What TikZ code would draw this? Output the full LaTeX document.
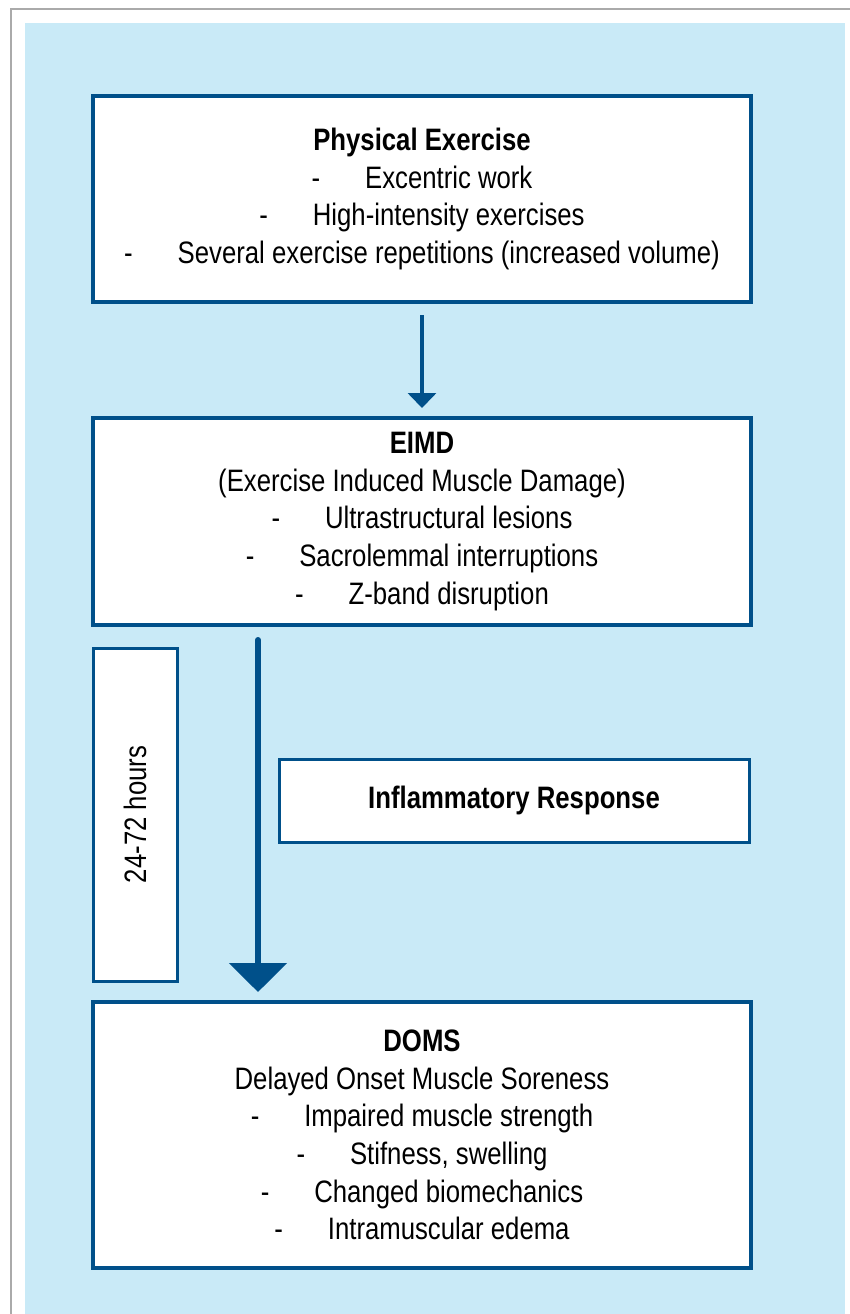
\documentclass[tikz,border=0pt]{standalone}
\usepackage{fontspec}
\setmainfont[FakeStretch=0.83]{Liberation Sans}
\usetikzlibrary{arrows.meta}
\definecolor{frameblue}{HTML}{00508A}
\definecolor{paleblue}{HTML}{C9EAF7}
\definecolor{framegray}{HTML}{AAAAAA}
\newcommand{\itm}{-\hspace{1.45em}}
\begin{document}
\begin{tikzpicture}[x=0.5pt,y=-0.5pt,
    stagebox/.style={draw=frameblue,line width=2pt,fill=white,inner sep=0pt,outer sep=0pt,
      minimum width=329pt,align=center,font=\fontsize{15.5pt}{18.85pt}\selectfont},
    sidebox/.style={draw=frameblue,line width=1.5pt,fill=white,inner sep=0pt,outer sep=0pt,
      align=center,font=\fontsize{15.5pt}{18.85pt}\selectfont},
    thinarrow/.style={draw=frameblue,line width=1.75pt,-{Triangle[width=14pt,length=7.5pt]}},
    bigarrow/.style={draw=frameblue,line width=3pt,line cap=round,-{Triangle[width=28.5pt,length=14.5pt]}}]
	\useasboundingbox (0,0) rectangle (850,1314);
	\clip (0,0) rectangle (850,1314);
	\fill[white] (0,0) rectangle (850,1314);
	\draw[framegray,line width=1pt] (11,9) rectangle (880,1340);
	\fill[paleblue] (25,23) rectangle (845,1330);
	% stages
	\node[stagebox,minimum height=103pt] (ex) at (422,199) {\textbf{Physical Exercise}\\
		\itm Excentric work\\
		\itm High-intensity exercises\\
		\itm Several exercise repetitions (increased volume)};
	\node[stagebox,minimum height=103.5pt] (eimd) at (422,521.5) {\textbf{EIMD}\\
		(Exercise Induced Muscle Damage)\\
		\itm Ultrastructural lesions\\
		\itm Sacrolemmal interruptions\\
		\itm Z-band disruption};
	\node[stagebox,minimum height=133pt] (doms) at (422,1135) {\textbf{DOMS}\\
		Delayed Onset Muscle Soreness\\
		\itm Impaired muscle strength\\
		\itm Stifness, swelling\\
		\itm Changed biomechanics\\
		\itm Intramuscular edema};
	% side boxes
	\node[sidebox,minimum width=42pt,minimum height=166.5pt] (hrs) at (135,814.5) {\rotatebox{90}{24-72 hours}};
	\node[sidebox,minimum width=235pt,minimum height=41.5pt] (infl) at (514,800.5) {\textbf{Inflammatory Response}};
	% arrows
	\draw[thinarrow,shorten <=6.5pt,shorten >=5pt] (ex) -- (eimd);
	\draw[bigarrow,shorten <=7.5pt,shorten >=5pt] ([xshift=-82pt]eimd.south) -- ([xshift=-82pt]doms.north);
\end{tikzpicture}
\end{document}
